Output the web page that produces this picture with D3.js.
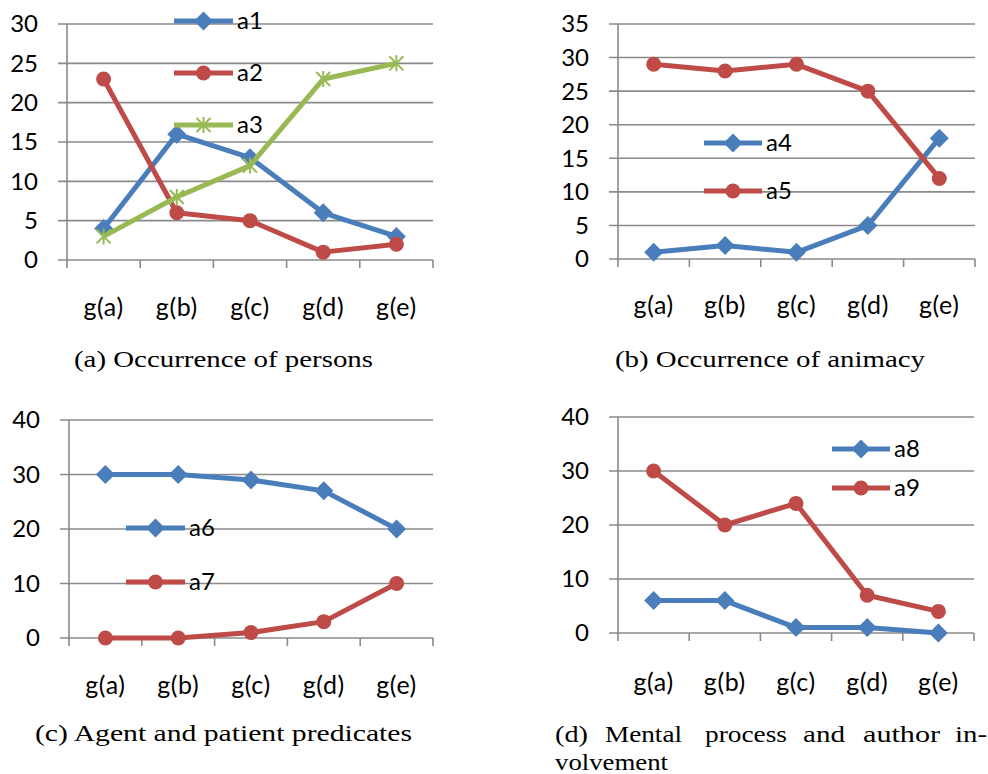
<!DOCTYPE html>
<html><head><meta charset="utf-8">
<script src="https://cdn.jsdelivr.net/npm/d3@7/dist/d3.min.js"></script>
<style>body{margin:0;background:#fff}svg{display:block}</style>
</head><body>
<svg id="c" width="988" height="774"></svg>
<script>
const categories = ["g(a)","g(b)","g(c)","g(d)","g(e)"];
const a1 = [4,16,13,6,3];
const a2 = [23,6,5,1,2];
const a3 = [3,8,12,23,25];
const a4 = [1,2,1,5,18];
const a5 = [29,28,29,25,12];
const a6 = [30,30,29,27,20];
const a7 = [0,0,1,3,10];
const a8 = [6,6,1,1,0];
const a9 = [30,20,24,7,4];
const ticksA = [0,5,10,15,20,25,30];
const ticksB = [0,5,10,15,20,25,30,35];
const ticksC = [0,10,20,30,40];
const ticksD = [0,10,20,30,40];
const captionA = "(a) Occurrence of persons";
const captionB = "(b) Occurrence of animacy";
const captionC = "(c) Agent and patient predicates";
const captionD1 = "(d) Mental process and author in-";
const captionD2 = "volvement";

const BLUE="#4a7ebb", RED="#be4b48", GREEN="#98b954", GRID="#8a8a8a";
const FONT="Lato, 'Open Sans', sans-serif";
const svg = d3.select("#c");

const panels = [
  {left:67,right:433,top:24,bottom:260,ticks:ticksA,max:30,xlab:307,
   series:[{name:"a1",v:a1,c:BLUE,m:"diamond"},{name:"a2",v:a2,c:RED,m:"circle"},{name:"a3",v:a3,c:GREEN,m:"star"}],
   legend:{x1:174,x2:233,ys:[21,73,125]}},
  {left:618,right:975,top:24,bottom:259,ticks:ticksB,max:35,xlab:305,
   series:[{name:"a4",v:a4,c:BLUE,m:"diamond"},{name:"a5",v:a5,c:RED,m:"circle"}],
   legend:{x1:704,x2:762,ys:[143,191]}},
  {left:69,right:433,top:420,bottom:638,ticks:ticksC,max:40,xlab:685,
   series:[{name:"a6",v:a6,c:BLUE,m:"diamond"},{name:"a7",v:a7,c:RED,m:"circle"}],
   legend:{x1:126,x2:185,ys:[528,582]}},
  {left:618,right:974,top:417,bottom:633,ticks:ticksD,max:40,xlab:682,
   series:[{name:"a8",v:a8,c:BLUE,m:"diamond"},{name:"a9",v:a9,c:RED,m:"circle"}],
   legend:{x1:832,x2:890,ys:[449,488]}}
];

function marker(g, type, x, y, c){
  if(type==="diamond"){
    const s=9.5;
    g.append("path").attr("d",`M${x},${y-s}L${x+s},${y}L${x},${y+s}L${x-s},${y}Z`).attr("fill",c);
  } else if(type==="circle"){
    g.append("circle").attr("cx",x).attr("cy",y).attr("r",7.5).attr("fill",c);
  } else {
    const s=7;
    g.append("path").attr("d",`M${x-s},${y-s}L${x+s},${y+s}M${x-s},${y+s}L${x+s},${y-s}M${x},${y-s-1}L${x},${y+s+1}`)
      .attr("stroke",c).attr("stroke-width",2).attr("fill","none");
  }
}

panels.forEach(p=>{
  const g = svg.append("g");
  const x = d3.scaleBand().domain(categories).range([p.left,p.right]);
  const y = d3.scaleLinear().domain([0,p.max]).range([p.bottom,p.top]);
  g.selectAll(".grid").data(p.ticks).join("line")
    .attr("x1",p.left-9).attr("x2",p.right).attr("y1",d=>y(d)).attr("y2",d=>y(d))
    .attr("stroke",GRID).attr("stroke-width",1.6);
  g.append("line").attr("x1",p.left).attr("x2",p.left).attr("y1",p.top).attr("y2",p.bottom+8)
    .attr("stroke",GRID).attr("stroke-width",1.6);
  const bounds = categories.map(c=>x(c)).concat([p.right]);
  g.selectAll(".xt").data(bounds.slice(1)).join("line")
    .attr("x1",d=>d).attr("x2",d=>d).attr("y1",p.bottom).attr("y2",p.bottom+8)
    .attr("stroke",GRID).attr("stroke-width",1.6);
  g.selectAll(".yl").data(p.ticks).join("text")
    .attr("x",p.left-29).attr("y",d=>y(d)).attr("dy","0.35em")
    .attr("text-anchor","end").attr("font-family",FONT).attr("font-size",24).attr("fill","#000")
    .text(d=>d);
  g.selectAll(".xl").data(categories).join("text")
    .attr("x",d=>x(d)+x.bandwidth()/2).attr("y",p.xlab).attr("dy","0.35em")
    .attr("text-anchor","middle").attr("font-family",FONT).attr("font-size",25)
    .attr("letter-spacing",0.6).attr("fill","#000")
    .text(d=>d);
  const line = d3.line().x((d,i)=>x(categories[i])+x.bandwidth()/2).y(d=>y(d));
  p.series.forEach(s=>{
    g.append("path").datum(s.v).attr("d",line).attr("fill","none").attr("stroke",s.c)
      .attr("stroke-width",5).attr("stroke-linejoin","round");
    s.v.forEach((v,i)=>marker(g,s.m,x(categories[i])+x.bandwidth()/2,y(v),s.c));
  });
  p.series.forEach((s,i)=>{
    const ly=p.legend.ys[i];
    g.append("line").attr("x1",p.legend.x1).attr("x2",p.legend.x2).attr("y1",ly).attr("y2",ly)
      .attr("stroke",s.c).attr("stroke-width",5);
    marker(g,s.m,(p.legend.x1+p.legend.x2)/2,ly,s.c);
    g.append("text").attr("x",p.legend.x2+4).attr("y",ly).attr("dy","0.35em")
      .attr("font-family",FONT).attr("font-size",24).attr("fill","#000").text(s.name);
  });
});

// captions
const CF="'Liberation Serif', 'DejaVu Serif', serif";
const CS=24;
function cap(t,x,yb,w){
  return svg.append("text").attr("x",x).attr("y",yb).attr("font-family",CF).attr("font-size",CS)
    .attr("textLength",w).attr("lengthAdjust","spacingAndGlyphs").attr("fill","#000").text(t);
}
cap(captionA,74,367,299);
cap(captionB,615,367,310);
cap(captionC,35,741,377);
cap(captionD2,555,770,113);
// justified first line of (d): word starts and widths as in the typeset original
const dWords = captionD1.split(" ");
const dX = [555,605,705,803,863,955];
const dW = [33,77,82,42,77,32];
dWords.forEach((w,i)=>cap(w,dX[i],742,dW[i]));
</script>
</body></html>
